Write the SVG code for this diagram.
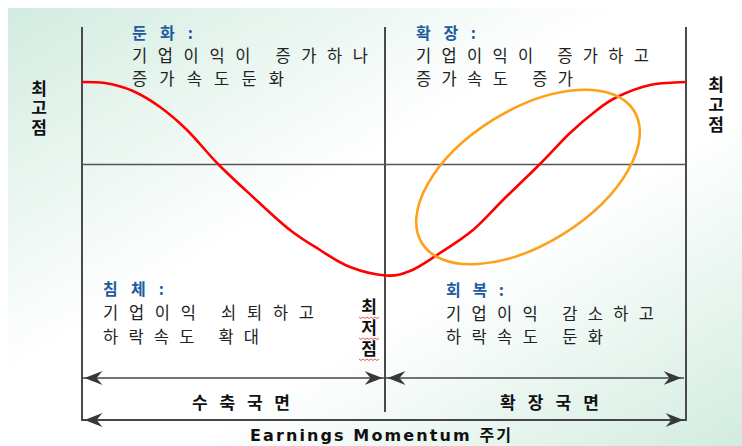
<svg xmlns="http://www.w3.org/2000/svg" width="742" height="446" viewBox="0 0 742 446">
  <defs>
    <linearGradient id="bg" x1="0" y1="0" x2="1" y2="1">
      <stop offset="0" stop-color="#d2ece0"/>
      <stop offset="0.42" stop-color="#ffffff"/>
      <stop offset="0.62" stop-color="#ffffff"/>
      <stop offset="1" stop-color="#d2ece0"/>
    </linearGradient>
    <marker id="arr" viewBox="-18 -7 20 14" refX="2.5" refY="0" markerWidth="20" markerHeight="14" markerUnits="userSpaceOnUse" orient="auto-start-reverse">
      <path d="M0,0 L-18,-7 L-12,0 L-18,7 Z" fill="#383838"/>
    </marker>
    <style>
      .frame{stroke:#4a4a4a;stroke-width:2;fill:none}
      .axis{stroke:#555;stroke-width:1.5;fill:none}
      .dim{stroke:#444;stroke-width:1.5;fill:none;marker-start:url(#arr);marker-end:url(#arr)}
      .title{font-family:"Noto Sans CJK KR","Noto Sans",sans-serif;font-weight:bold;font-size:16px;fill:#1f5c9f}
      .body{font-family:"Noto Sans CJK KR","Noto Sans",sans-serif;font-size:16.5px;fill:#222}
      .side{font-family:"Noto Sans CJK KR","Noto Sans",sans-serif;font-weight:bold;font-size:17px;fill:#111;writing-mode:vertical-rl;text-orientation:upright}
      .phase{font-family:"Noto Sans CJK KR","Noto Sans",sans-serif;font-weight:bold;font-size:17px;fill:#111}
      .cap{font-family:"DejaVu Sans","Noto Sans CJK KR",sans-serif;font-weight:bold;font-size:16px;fill:#111}
      .squig{stroke:#e03030;stroke-width:0.8;fill:none}
    </style>
  </defs>

  <rect x="8" y="8" width="734" height="438" fill="url(#bg)"/>

  <g id="connectors">
    <path class="frame" d="M82,27 V420 H686 V27"/>
    <path class="frame" d="M385,27 V412"/>
    <path class="axis" d="M82,164.5 H686"/>
    <path class="dim" d="M82,378 H385"/>
    <path class="dim" d="M385,378 H684"/>
    <path class="dim" d="M82,420 H686"/>
  </g>

  <g id="curve">
    <path fill="none" stroke="#ff0000" stroke-width="2.6" stroke-linejoin="round" d="M82,82 C89.7,82 96.5,82 105,83 C113.5,84.5 123.8,86.9 133,91 C142.2,95.1 151,100.5 160,107 C169,113.5 177.3,120.5 187,130 C196.7,139.5 207,152.8 218,164 C229,175.2 241,186 253,197 C265,208 278.8,221.2 290,230 C301.2,238.8 310,243.8 320,250 C330,256.2 339,262.75 350,267 C361,271.25 376,274.8 386,275.5 C396,276.2 401.5,274.4 410,271 C418.5,267.6 426.5,261.8 437,255 C447.5,248.2 462,239.2 473,230 C484,220.8 491.8,211 503,200 C514.2,189 528.8,175.2 540,164 C551.2,152.8 560.5,142 570,133 C579.5,124 589.2,116 597,110 C604.8,104 608.2,101.2 617,97 C625.8,92.8 638.5,87.5 650,85 C661.5,82.5 674,82.5 686,82"/>
  </g>

  <g id="highlight">
    <ellipse cx="528" cy="177" rx="125" ry="67" transform="rotate(-32 528 177)" fill="none" stroke="#ffa01a" stroke-width="2.6"/>
  </g>

  <g id="node-dunhwa">
    <text class="title" x="132" y="38.5" textLength="61" lengthAdjust="spacing">둔화:</text>
    <text class="body" x="132" y="61.5" textLength="236" lengthAdjust="spacing">기업이익이 증가하나</text>
    <text class="body" x="132" y="84.5" textLength="152" lengthAdjust="spacing">증가속도둔화</text>
  </g>

  <g id="node-hwakjang">
    <text class="title" x="416" y="38.5" textLength="60" lengthAdjust="spacing">확장:</text>
    <text class="body" x="416" y="61.5" textLength="233" lengthAdjust="spacing">기업이익이 증가하고</text>
    <text class="body" x="416" y="84.5" textLength="157" lengthAdjust="spacing">증가속도 증가</text>
  </g>

  <g id="node-chimche">
    <text class="title" x="103" y="295" textLength="61" lengthAdjust="spacing">침체:</text>
    <text class="body" x="103" y="318.5" textLength="211" lengthAdjust="spacing">기업이익 쇠퇴하고</text>
    <text class="body" x="103" y="342.5" textLength="156" lengthAdjust="spacing">하락속도 확대</text>
  </g>

  <g id="node-hoebok">
    <text class="title" x="446" y="296" textLength="58" lengthAdjust="spacing">회복:</text>
    <text class="body" x="446" y="319.5" textLength="208" lengthAdjust="spacing">기업이익 감소하고</text>
    <text class="body" x="446" y="342.5" textLength="157" lengthAdjust="spacing">하락속도 둔화</text>
  </g>

  <g id="node-peak-left">
    <text class="side" x="39" y="80" letter-spacing="2.5">최고점</text>
  </g>

  <g id="node-peak-right">
    <text class="side" x="716" y="76" letter-spacing="3">최고점</text>
  </g>

  <g id="node-trough">
    <text class="side" x="369" y="298" letter-spacing="4">최저점</text>
    <path class="squig" d="M359,317 l2,1.5 l2,-1.5 l2,1.5 l2,-1.5 l2,1.5 l2,-1.5 l2,1.5 l2,-1.5 l2,1.5 l2,-1.5"/>
    <path class="squig" d="M359,338 l2,1.5 l2,-1.5 l2,1.5 l2,-1.5 l2,1.5 l2,-1.5 l2,1.5 l2,-1.5 l2,1.5 l2,-1.5"/>
    <path class="squig" d="M359,359 l2,1.5 l2,-1.5 l2,1.5 l2,-1.5 l2,1.5 l2,-1.5 l2,1.5 l2,-1.5 l2,1.5 l2,-1.5"/>
  </g>

  <g id="node-contraction">
    <text class="phase" x="192" y="408.5" textLength="98" lengthAdjust="spacing">수축국면</text>
  </g>

  <g id="node-expansion">
    <text class="phase" x="500" y="408.5" textLength="99" lengthAdjust="spacing">확장국면</text>
  </g>

  <g id="node-caption">
    <text class="cap" x="250" y="441" textLength="261" lengthAdjust="spacing">Earnings Momentum 주기</text>
  </g>
</svg>
